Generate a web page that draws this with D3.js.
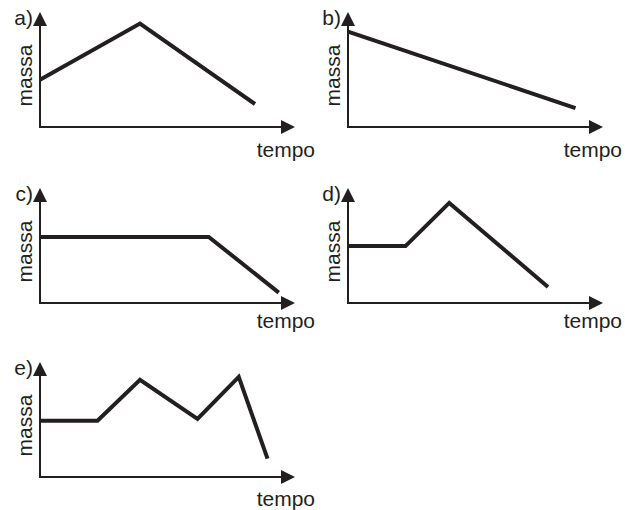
<!DOCTYPE html>
<html>
<head>
<meta charset="utf-8">
<script src="https://cdn.jsdelivr.net/npm/d3@7"></script>
<style>
  body { margin: 0; background: #fff; }
  text { font-family: "Liberation Sans", Arial, sans-serif; fill: #231f20; }
</style>
</head>
<body>
<svg width="625" height="510"></svg>
<script>
// data: [tempo, massa] in arbitrary units 0..10
var seriesA = [[0, 4.1], [4.0, 9.0], [8.6, 2.0]];
var seriesB = [[0, 8.3], [9.1, 1.65]];
var seriesC = [[0, 5.75], [6.75, 5.75], [9.55, 0.9]];
var seriesD = [[0, 4.95], [2.3, 4.95], [4.05, 8.7], [8.0, 1.4]];
var seriesE = [[0, 4.9], [2.3, 4.9], [4.0, 8.45], [6.3, 5.05], [7.95, 8.7], [9.1, 1.6]];

var panelLabels = ["a)", "b)", "c)", "d)", "e)"];
var xLabel = "tempo";
var yLabel = "massa";

var series = [seriesA, seriesB, seriesC, seriesD, seriesE];

// layout: axis origin of each panel
var origins = [
  { x: 40, y: 127, tx: 315, ty: 157 },
  { x: 348, y: 127, tx: 622, ty: 157 },
  { x: 40, y: 303, tx: 315, ty: 328 },
  { x: 348, y: 303, tx: 622, ty: 328 },
  { x: 40, y: 477, tx: 315, ty: 506 }
];

var axisW = 255, axisH = 115;
var ink = "#231f20";

var x = d3.scaleLinear().domain([0, 10]).range([0, 250]);
var y = d3.scaleLinear().domain([0, 10]).range([0, -115]);

var line = d3.line()
    .x(function(d) { return x(d[0]); })
    .y(function(d) { return y(d[1]); });

var svg = d3.select("svg");

series.forEach(function(s, i) {
    var o = origins[i];
    var g = svg.append("g")
        .attr("transform", "translate(" + o.x + "," + o.y + ")");

    // axes
    g.append("line")
        .attr("x1", 0).attr("y1", 0)
        .attr("x2", 0).attr("y2", -axisH + 10)
        .attr("stroke", ink).attr("stroke-width", 2);
    g.append("line")
        .attr("x1", -1).attr("y1", 0)
        .attr("x2", axisW - 10).attr("y2", 0)
        .attr("stroke", ink).attr("stroke-width", 2);

    // arrow heads
    g.append("path")
        .attr("d", "M0," + (-axisH) + "L-7," + (-axisH + 14) + "L7," + (-axisH + 14) + "Z")
        .attr("fill", ink);
    g.append("path")
        .attr("d", "M" + axisW + ",0L" + (axisW - 14) + ",-7L" + (axisW - 14) + ",7Z")
        .attr("fill", ink);

    g.append("path")
        .datum(s)
        .attr("d", line)
        .attr("fill", "none")
        .attr("stroke", ink)
        .attr("stroke-width", 4)
        .attr("stroke-linejoin", "miter");

    g.append("text")
        .attr("x", -7).attr("y", -axisH + 13)
        .attr("text-anchor", "end")
        .attr("font-size", 21)
        .text(panelLabels[i]);

    g.append("text")
        .attr("transform", "translate(-8," + (-axisH / 2 + 6) + ") rotate(-90)")
        .attr("text-anchor", "middle")
        .attr("font-size", 21)
        .text(yLabel);

    svg.append("text")
        .attr("x", o.tx).attr("y", o.ty)
        .attr("text-anchor", "end")
        .attr("font-size", 21)
        .text(xLabel);
});
</script>
</body>
</html>
